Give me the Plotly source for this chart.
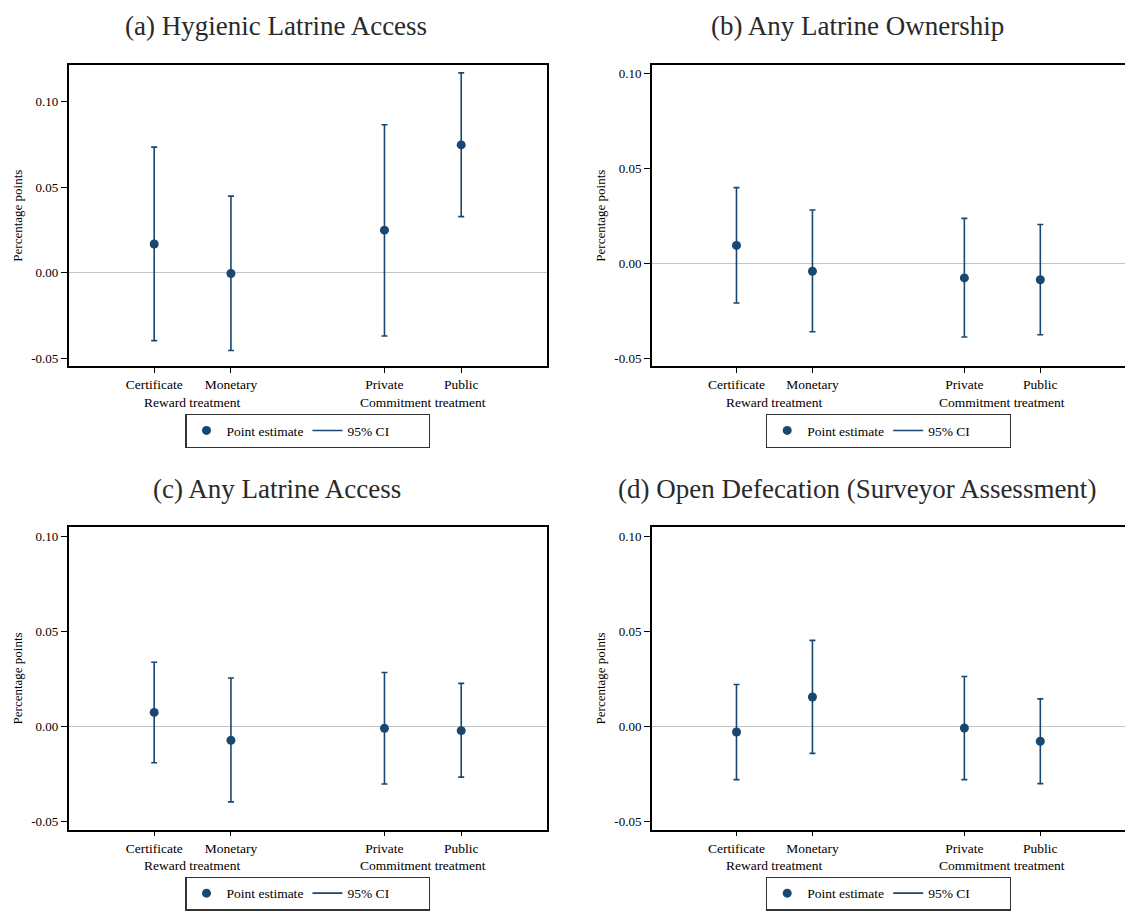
import plotly.graph_objects as go

# ---------------- data ----------------
categories = ["Certificate", "Monetary", "Private", "Public"]
x_pos = [1, 2, 4, 5]
group_labels = ["Reward treatment", "Commitment treatment"]
group_members = [[0, 1], [2, 3]]

titles = [
    "(a) Hygienic Latrine Access",
    "(b) Any Latrine Ownership",
    "(c) Any Latrine Access",
    "(d) Open Defecation (Surveyor Assessment)",
]

est_a = [0.0168, -0.0004, 0.0249, 0.0747]
lo_a = [-0.0396, -0.0454, -0.0369, 0.0328]
hi_a = [0.0734, 0.0448, 0.0865, 0.1168]

est_b = [0.0094, -0.0042, -0.0077, -0.0087]
lo_b = [-0.0209, -0.0360, -0.0388, -0.0376]
hi_b = [0.0398, 0.0280, 0.0236, 0.0204]

est_c = [0.0072, -0.0075, -0.0012, -0.0024]
lo_c = [-0.0193, -0.0399, -0.0305, -0.0269]
hi_c = [0.0336, 0.0253, 0.0282, 0.0225]

est_d = [-0.0031, 0.0153, -0.0010, -0.0080]
lo_d = [-0.0282, -0.0144, -0.0282, -0.0303]
hi_d = [0.0219, 0.0451, 0.0261, 0.0143]

y_tickvals = [-0.05, 0.0, 0.05, 0.10]
y_ticktext = ["-0.05", "0.00", "0.05", "0.10"]
y_title = "Percentage points"
legend_names = ["Point estimate", "95% CI"]

# ---------------- styling / layout ----------------
W, H = 1126, 911
NAVY = "#1a476f"
FONT = "Liberation Serif"

panels = [
    dict(est=est_a, lo=lo_a, hi=hi_a, yr=[-0.0547, 0.1215],
         px=(68.6, 546.8), py=(65.3, 369.3), title_xy=(276, 26),
         group_y=405.5, legend_mid=434.2, mirror_y=True),
    dict(est=est_b, lo=lo_b, hi=hi_b, yr=[-0.0543, 0.1044],
         px=(651.8, 1125.0), py=(65.3, 369.3), title_xy=(857, 26),
         group_y=405.5, legend_mid=434.2, mirror_y=False),
    dict(est=est_c, lo=lo_c, hi=hi_c, yr=[-0.0545, 0.1047],
         px=(68.6, 546.8), py=(531.3, 836.0), title_xy=(276.5, 493),
         group_y=872.0, legend_mid=900.5, mirror_y=True),
    dict(est=est_d, lo=lo_d, hi=hi_d, yr=[-0.0545, 0.1047],
         px=(651.8, 1125.0), py=(531.3, 836.0), title_xy=(856.5, 493),
         group_y=872.0, legend_mid=900.5, mirror_y=False),
]

fig = go.Figure()
annotations = []
layout_axes = {}

for i, p in enumerate(panels):
    n = i + 1
    xa = "x" if n == 1 else f"x{n}"
    ya = "y" if n == 1 else f"y{n}"
    leg = "legend" if n == 1 else f"legend{n}"
    err_plus = [h - e for h, e in zip(p["hi"], p["est"])]
    err_minus = [e - l for e, l in zip(p["est"], p["lo"])]

    fig.add_trace(go.Scatter(
        x=x_pos, y=p["est"], mode="markers",
        marker=dict(color=NAVY, size=9),
        error_y=dict(type="data", symmetric=False, array=err_plus,
                     arrayminus=err_minus, color=NAVY, thickness=1.6, width=3),
        name=legend_names[0], xaxis=xa, yaxis=ya, legend=leg,
        showlegend=True,
    ))
    # legend-only entry for the CI
    fig.add_trace(go.Scatter(
        x=[None], y=[None], mode="lines",
        line=dict(color=NAVY, width=1.6),
        name=legend_names[1], xaxis=xa, yaxis=ya, legend=leg,
        showlegend=True,
    ))

    x0, x1 = p["px"]
    yt, yb = p["py"]
    layout_axes["xaxis" if n == 1 else f"xaxis{n}"] = dict(
        domain=[x0 / W, x1 / W], range=[-0.115, 6.115],
        tickmode="array", tickvals=x_pos, ticktext=categories,
        ticks="outside", ticklen=5, tickwidth=1, tickcolor="black",
        showline=True, linecolor="black", linewidth=1.5, mirror=True,
        showgrid=False, zeroline=False, anchor=ya,
        tickfont=dict(family=FONT, size=13.5, color="black"),
        fixedrange=True,
    )
    layout_axes["yaxis" if n == 1 else f"yaxis{n}"] = dict(
        domain=[(H - yb) / H, (H - yt) / H], range=p["yr"],
        tickmode="array", tickvals=y_tickvals, ticktext=y_ticktext,
        ticks="outside", ticklen=6, tickwidth=1, tickcolor="black",
        showline=True, linecolor="black", linewidth=1.5,
        mirror=p["mirror_y"],
        showgrid=False, zeroline=True, zerolinecolor="#c4c4c4",
        zerolinewidth=1.4, anchor=xa,
        tickfont=dict(family=FONT, size=13, color="black"),
        title=dict(text=y_title, font=dict(family=FONT, size=13, color="black"),
                   standoff=6),
        fixedrange=True,
    )

    # panel title
    tx, ty = p["title_xy"]
    annotations.append(dict(
        text=titles[i], x=tx / W, y=(H - ty) / H, xref="paper", yref="paper",
        xanchor="center", yanchor="middle", showarrow=False,
        font=dict(family=FONT, size=27, color="#2a2a2a"),
    ))
    # group labels under categories
    for g, members in zip(group_labels, group_members):
        gx = sum(x_pos[m] for m in members) / len(members)
        annotations.append(dict(
            text=g, x=gx, y=(H - p["group_y"]) / H, xref=xa, yref="paper",
            xanchor="center", yanchor="middle", showarrow=False,
            font=dict(family=FONT, size=13.5, color="black"),
        ))

    layout_axes[leg] = dict(
        orientation="h", x=((x0 + x1) / 2) / W, xanchor="center",
        y=(H - p["legend_mid"]) / H, yanchor="middle",
        bordercolor="#333333", borderwidth=1.3, bgcolor="white",
        font=dict(family=FONT, size=13.5, color="black"),
        itemclick=False, itemdoubleclick=False,
        entrywidth=76, entrywidthmode="pixels",
    )

fig.update_layout(
    width=W, height=H,
    margin=dict(l=0, r=0, t=0, b=0),
    paper_bgcolor="white", plot_bgcolor="white",
    font=dict(family=FONT, size=13, color="black"),
    annotations=annotations,
    **layout_axes,
)

fig.write_html(
    "out.html",
    config={"displayModeBar": False},
    post_script="document.body.style.margin='0';document.body.style.overflow='hidden';",
)
